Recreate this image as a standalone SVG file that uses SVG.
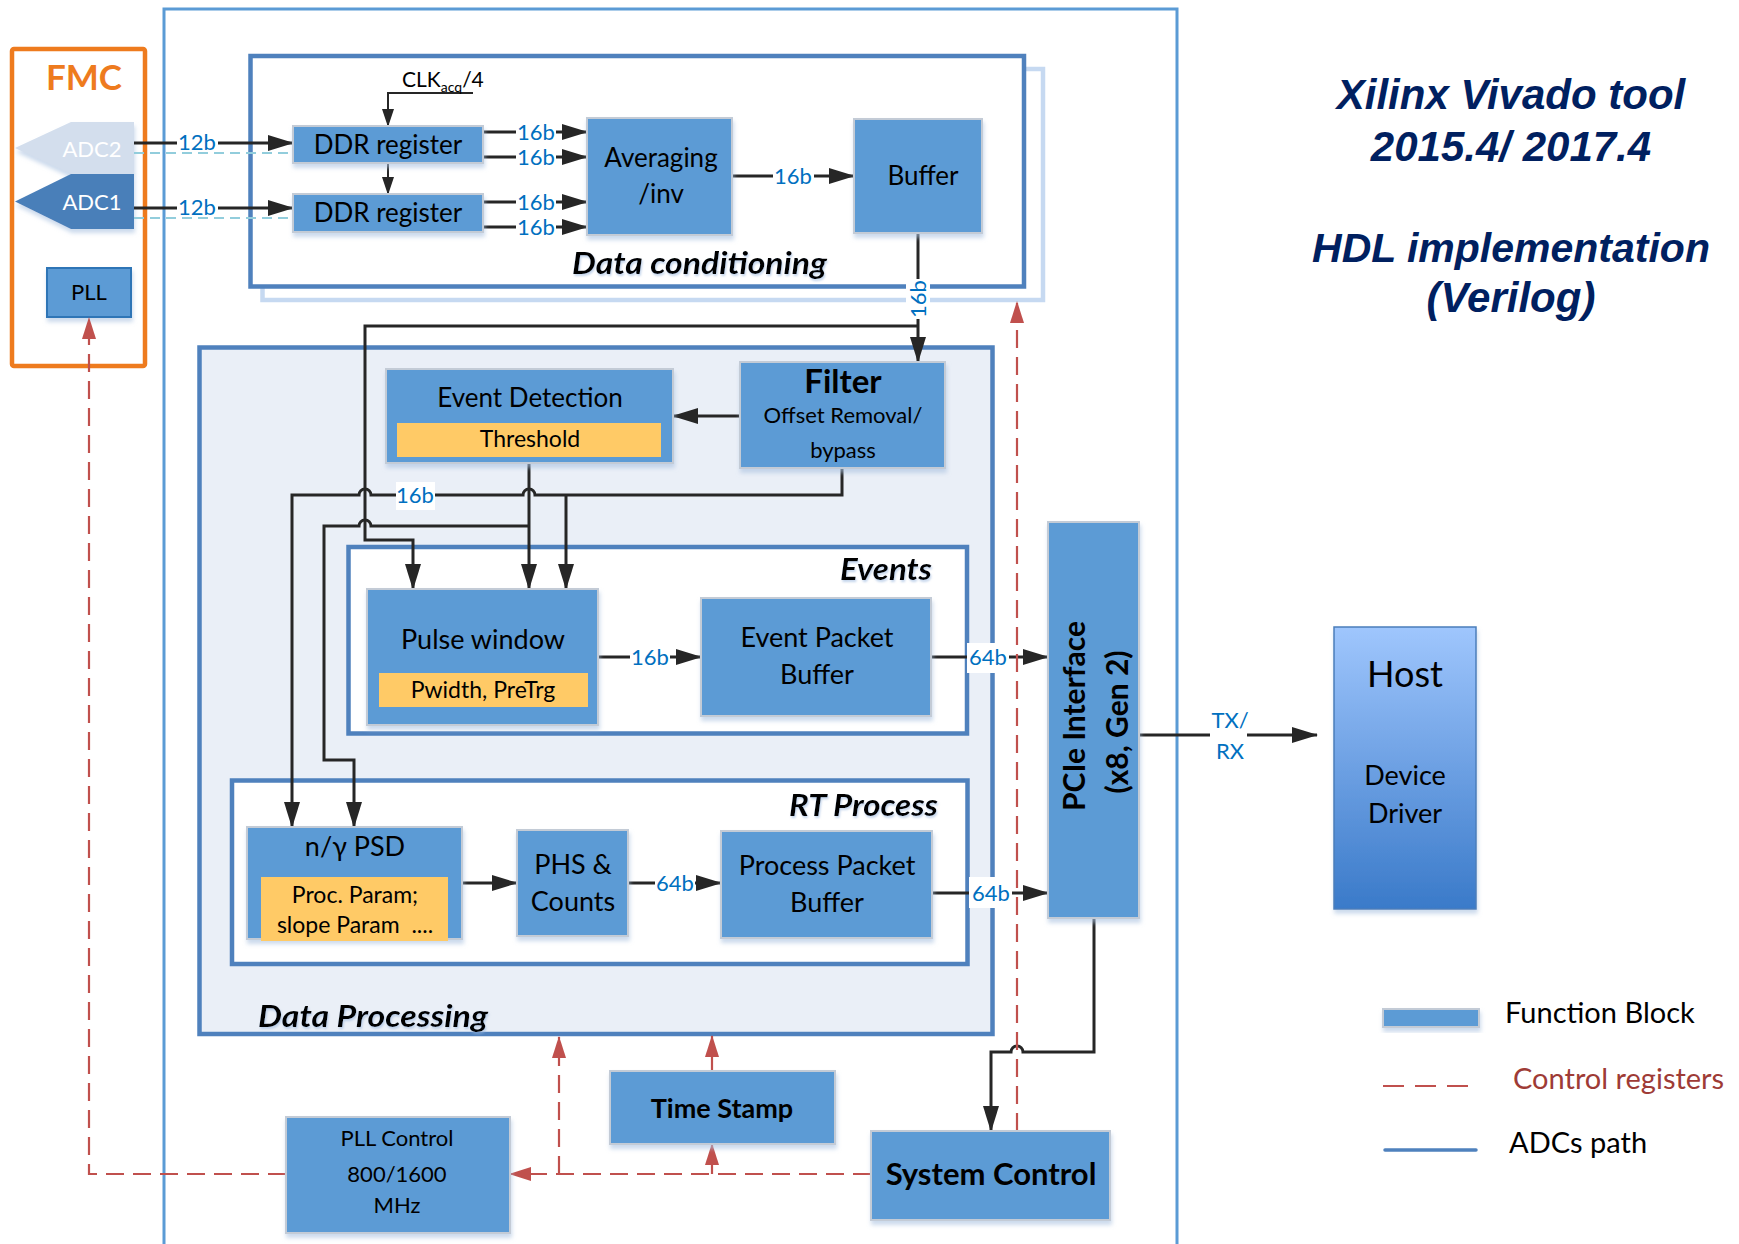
<svg xmlns="http://www.w3.org/2000/svg" width="1739" height="1244" viewBox="0 0 1739 1244">
<defs>
<style>
.blk{fill:#5b9bd5;stroke:#c3cbd6;stroke-width:2;filter:url(#sh)}
.par{fill:#ffca66}
.tx{font-family:Lato,"Open Sans","Liberation Sans",sans-serif;fill:#000;text-anchor:middle}
.grp{stroke:#4f81bd;stroke-width:4.5}
.hd{font-family:Lato,"Open Sans","Liberation Sans",sans-serif;font-weight:700;font-style:italic;font-size:30px;fill:#000;filter:url(#tsh)}
.bw{font-family:Lato,"Open Sans","Liberation Sans",sans-serif;font-size:22px;fill:#0070c0;text-anchor:middle}
.ln{fill:none;stroke:#262626;stroke-width:3}
.thin{fill:none;stroke:#262626;stroke-width:2}
.cr{fill:none;stroke:#c0504d;stroke-width:2.2;stroke-dasharray:18 9}
.bg{fill:#fff}
</style>
<filter id="sh" x="-10%" y="-10%" width="130%" height="140%">
<feDropShadow dx="1" dy="4" stdDeviation="2" flood-color="#a9c1e0" flood-opacity="0.6"/>
</filter>
<filter id="tsh" x="-5%" y="-20%" width="115%" height="150%">
<feDropShadow dx="1" dy="2" stdDeviation="1" flood-color="#9bb7de" flood-opacity="0.6"/>
</filter>
<linearGradient id="hostg" x1="0" y1="0" x2="0" y2="1">
<stop offset="0" stop-color="#9fc6fd"/>
<stop offset="1" stop-color="#3a7ac9"/>
</linearGradient>
<marker id="ah" markerUnits="userSpaceOnUse" markerWidth="26" markerHeight="16" refX="25" refY="8" orient="auto">
<path d="M0,0 L26,8 L0,16 z" fill="#262626"/>
</marker>
<marker id="as" markerUnits="userSpaceOnUse" markerWidth="18" markerHeight="12" refX="17" refY="6" orient="auto">
<path d="M0,0 L18,6 L0,12 z" fill="#262626"/>
</marker>
<marker id="ar" markerUnits="userSpaceOnUse" markerWidth="22" markerHeight="14" refX="21" refY="7" orient="auto">
<path d="M0,0 L22,7 L0,14 z" fill="#c0504d"/>
</marker>
</defs>

<rect width="1739" height="1244" fill="#fff"/>

<!-- FPGA outline -->
<path id="fpga" d="M164,1244 V9 H1177 V1244" fill="none" stroke="#5b9bd5" stroke-width="3"/>

<!-- FMC card -->
<g id="fmc">
<rect x="12" y="49" width="133" height="317" fill="none" stroke="#ee7b1e" stroke-width="4.5" rx="2"/>
<text x="84" y="90" class="tx" font-size="35" font-weight="700" style="fill:#ee7b1e">FMC</text>
</g>
<g id="adc2">
<polygon points="15,148 71,122 134,122 134,174 71,174" fill="#d3deed" filter="url(#sh)"/>
<text x="92" y="157" class="tx" font-size="22" style="fill:#fff">ADC2</text>
</g>
<g id="adc1">
<polygon points="15,201.5 71,174 134,174 134,229 71,229" fill="#4a7fb9" filter="url(#sh)"/>
<text x="92" y="210" class="tx" font-size="22" style="fill:#fff">ADC1</text>
</g>
<g id="pll">
<rect x="47" y="268" width="84" height="49" fill="#5b9bd5" stroke="#2e75b6" stroke-width="2" filter="url(#sh)"/>
<text x="89" y="300" class="tx" font-size="22">PLL</text>
</g>

<!-- group frames -->
<g id="data-conditioning">
<rect x="262.5" y="69" width="780.5" height="231" fill="#fff" stroke="#c6d9f1" stroke-width="4.5"/>
<rect x="250.5" y="56" width="773.5" height="230.5" fill="#fff" class="grp"/>
<text x="572" y="274" class="hd" textLength="255" lengthAdjust="spacingAndGlyphs">Data conditioning</text>
</g>
<g id="data-processing">
<rect x="199.5" y="347.5" width="793" height="686.5" fill="#eaeff7" class="grp"/>
<text x="258" y="1027" class="hd" textLength="230" lengthAdjust="spacingAndGlyphs">Data Processing</text>
</g>
<g id="events">
<rect x="348.5" y="547" width="618.5" height="186.5" fill="#fff" class="grp"/>
<text x="840" y="580" class="hd" textLength="92" lengthAdjust="spacingAndGlyphs">Events</text>
</g>
<g id="rt-process">
<rect x="232" y="780.5" width="735.5" height="183.5" fill="#fff" class="grp"/>
<text x="789" y="816" class="hd" textLength="149" lengthAdjust="spacingAndGlyphs">RT Process</text>
</g>

<!-- connectors -->
<g id="connectors">
<!-- ADC inputs -->
<line x1="134" y1="153" x2="293" y2="153" stroke="#92cddc" stroke-width="2" stroke-dasharray="10 6"/>
<line x1="134" y1="218" x2="293" y2="218" stroke="#92cddc" stroke-width="2" stroke-dasharray="10 6"/>
<line x1="134" y1="143" x2="293" y2="143" class="ln" marker-end="url(#ah)"/>
<line x1="134" y1="208" x2="293" y2="208" class="ln" marker-end="url(#ah)"/>
<rect x="177" y="132" width="41" height="19" class="bg"/>
<text x="197" y="150" class="bw">12b</text>
<rect x="177" y="197" width="41" height="19" class="bg"/>
<text x="197" y="215" class="bw">12b</text>

<!-- clock -->
<polyline points="473,93 388,93 388,126" class="thin" marker-end="url(#as)"/>
<text x="402" y="87" font-family="Lato,'Open Sans','Liberation Sans',sans-serif" font-size="21">CLK<tspan font-size="14" dy="5">acq</tspan><tspan dy="-5">/4</tspan></text>
<line x1="388" y1="163" x2="388" y2="194" class="thin" marker-end="url(#as)"/>

<!-- DDR outputs -->
<line x1="483" y1="132" x2="587" y2="132" class="ln" marker-end="url(#ah)"/>
<line x1="483" y1="157" x2="587" y2="157" class="ln" marker-end="url(#ah)"/>
<line x1="483" y1="202" x2="587" y2="202" class="ln" marker-end="url(#ah)"/>
<line x1="483" y1="227" x2="587" y2="227" class="ln" marker-end="url(#ah)"/>
<rect x="516" y="122" width="40" height="19" class="bg"/>
<rect x="516" y="147" width="40" height="19" class="bg"/>
<rect x="516" y="192" width="40" height="19" class="bg"/>
<rect x="516" y="217" width="40" height="19" class="bg"/>
<text x="536" y="140" class="bw">16b</text>
<text x="536" y="165" class="bw">16b</text>
<text x="536" y="210" class="bw">16b</text>
<text x="536" y="235" class="bw">16b</text>

<!-- averaging to buffer -->
<line x1="732" y1="176" x2="854" y2="176" class="ln" marker-end="url(#ah)"/>
<rect x="773" y="166" width="41" height="19" class="bg"/>
<text x="793" y="184" class="bw">16b</text>

<!-- buffer to filter, and branch to pulse window -->
<line x1="918" y1="233" x2="918" y2="362" class="ln" marker-end="url(#ah)"/>
<rect x="906" y="279" width="24" height="40" class="bg"/>
<text transform="translate(926,299) rotate(-90)" class="bw">16b</text>
<polyline points="918,326 365,326 365,540 413,540 413,589" class="ln" marker-end="url(#ah)"/>

<!-- filter to event detection -->
<line x1="740" y1="416" x2="673" y2="416" class="ln" marker-end="url(#ah)"/>

<!-- filter output bus -->
<path d="M842,468 V495 H535 a6,6 0 0 0 -12,0 H371 a6,6 0 0 0 -12,0 H292 V827" class="ln" marker-end="url(#ah)"/>
<line x1="566" y1="495" x2="566" y2="589" class="ln" marker-end="url(#ah)"/>
<rect x="396" y="482" width="39" height="28" class="bg"/>
<text x="415" y="503" class="bw">16b</text>

<!-- event detection output -->
<line x1="529" y1="463" x2="529" y2="589" class="ln" marker-end="url(#ah)"/>
<path d="M529,526 H371 a6,6 0 0 0 -12,0 H324 V760 H354 V827" class="ln" marker-end="url(#ah)"/>

<!-- events path -->
<line x1="598" y1="657" x2="701" y2="657" class="ln" marker-end="url(#ah)"/>
<rect x="630" y="647" width="40" height="19" class="bg"/>
<text x="650" y="665" class="bw">16b</text>
<line x1="931" y1="657" x2="1048" y2="657" class="ln" marker-end="url(#ah)"/>
<rect x="967" y="643" width="42" height="30" class="bg"/>
<text x="988" y="665" class="bw">64b</text>

<!-- RT path -->
<line x1="462" y1="883" x2="517" y2="883" class="ln" marker-end="url(#ah)"/>
<line x1="628" y1="883" x2="721" y2="883" class="ln" marker-end="url(#ah)"/>
<rect x="655" y="873" width="40" height="19" class="bg"/>
<text x="675" y="891" class="bw">64b</text>
<line x1="932" y1="893" x2="1048" y2="893" class="ln" marker-end="url(#ah)"/>
<rect x="969" y="877" width="43" height="31" class="bg"/>
<text x="991" y="901" class="bw">64b</text>

<!-- PCIe to host -->
<line x1="1139" y1="735" x2="1210" y2="735" class="ln"/>
<line x1="1247" y1="735" x2="1317" y2="735" class="ln" marker-end="url(#ah)"/>
<text x="1230" y="728" class="bw" font-size="21">TX/</text>
<text x="1230" y="759" class="bw" font-size="21">RX</text>

<!-- PCIe to system control -->
<path d="M1094,918 V1052 H1023 a6,6 0 0 0 -12,0 H991 V1131" class="ln" marker-end="url(#ah)"/>

<!-- control registers -->
<line x1="1017" y1="1131" x2="1017" y2="302" class="cr" marker-end="url(#ar)"/>
<line x1="871" y1="1174" x2="510" y2="1174" class="cr" marker-end="url(#ar)"/>
<line x1="712" y1="1174" x2="712" y2="1144" class="cr" marker-end="url(#ar)"/>
<line x1="712" y1="1071" x2="712" y2="1036" class="cr" marker-end="url(#ar)"/>
<line x1="559" y1="1174" x2="559" y2="1037" class="cr" marker-end="url(#ar)"/>
<polyline points="286,1174 89,1174 89,318" class="cr" marker-end="url(#ar)"/>
</g>

<!-- function blocks -->
<g id="ddr1">
<rect x="293" y="126" width="190" height="37" class="blk"/>
<text x="388" y="154" class="tx" font-size="26">DDR register</text>
</g>
<g id="ddr2">
<rect x="293" y="194" width="190" height="38" class="blk"/>
<text x="388" y="222" class="tx" font-size="26">DDR register</text>
</g>
<g id="averaging">
<rect x="587" y="118" width="145" height="117" class="blk"/>
<text x="661" y="167" class="tx" font-size="26">Averaging</text>
<text x="661" y="203" class="tx" font-size="26">/inv</text>
</g>
<g id="buffer">
<rect x="854" y="119" width="128" height="114" class="blk"/>
<text x="923" y="185" class="tx" font-size="26">Buffer</text>
</g>
<g id="event-detection">
<rect x="386" y="369" width="287" height="94" class="blk"/>
<rect x="397" y="423" width="264" height="34" class="par"/>
<text x="530" y="407" class="tx" font-size="26">Event Detection</text>
<text x="530" y="447" class="tx" font-size="23">Threshold</text>
</g>
<g id="filter">
<rect x="740" y="362" width="205" height="106" class="blk"/>
<text x="843" y="393" class="tx" font-size="33" font-weight="700">Filter</text>
<text x="843" y="423" class="tx" font-size="22">Offset Removal/</text>
<text x="843" y="458" class="tx" font-size="22">bypass</text>
</g>
<g id="pulse-window">
<rect x="367" y="589" width="231" height="136" class="blk"/>
<rect x="379" y="673" width="209" height="34" class="par"/>
<text x="483" y="649" class="tx" font-size="27">Pulse window</text>
<text x="483" y="698" class="tx" font-size="23">Pwidth, PreTrg</text>
</g>
<g id="event-packet-buffer">
<rect x="701" y="598" width="230" height="118" class="blk"/>
<text x="817" y="647" class="tx" font-size="27">Event Packet</text>
<text x="817" y="684" class="tx" font-size="27">Buffer</text>
</g>
<g id="psd">
<rect x="247" y="827" width="215" height="112" class="blk"/>
<rect x="261" y="877" width="187" height="64" class="par"/>
<text x="355" y="856" class="tx" font-size="27">n/γ PSD</text>
<text x="355" y="903" class="tx" font-size="23">Proc. Param;</text>
<text x="355" y="933" class="tx" font-size="23" xml:space="preserve">slope Param  ....</text>
</g>
<g id="phs-counts">
<rect x="517" y="830" width="111" height="106" class="blk"/>
<text x="573" y="874" class="tx" font-size="27">PHS &amp;</text>
<text x="573" y="911" class="tx" font-size="27">Counts</text>
</g>
<g id="process-packet-buffer">
<rect x="721" y="831" width="211" height="107" class="blk"/>
<text x="827" y="875" class="tx" font-size="27">Process Packet</text>
<text x="827" y="912" class="tx" font-size="27">Buffer</text>
</g>
<g id="pcie">
<rect x="1048" y="522" width="91" height="396" class="blk"/>
<text transform="translate(1085,716) rotate(-90)" class="tx" font-size="30" font-weight="700">PCIe Interface</text>
<text transform="translate(1128,722) rotate(-90)" class="tx" font-size="30" font-weight="700">(x8, Gen 2)</text>
</g>
<g id="host">
<rect x="1334" y="627" width="142" height="282" fill="url(#hostg)" stroke="#4a7ebb" stroke-width="1.5" filter="url(#sh)"/>
<text x="1405" y="687" class="tx" font-size="36">Host</text>
<text x="1405" y="785" class="tx" font-size="27">Device</text>
<text x="1405" y="823" class="tx" font-size="27">Driver</text>
</g>
<g id="time-stamp">
<rect x="610" y="1071" width="225" height="73" class="blk"/>
<text x="722" y="1118" class="tx" font-size="27" font-weight="700">Time Stamp</text>
</g>
<g id="system-control">
<rect x="871" y="1131" width="239" height="89" class="blk"/>
<text x="991" y="1185" class="tx" font-size="31" font-weight="700">System Control</text>
</g>
<g id="pll-control">
<rect x="286" y="1117" width="224" height="116" class="blk"/>
<text x="397" y="1146" class="tx" font-size="22">PLL Control</text>
<text x="397" y="1182" class="tx" font-size="22">800/1600</text>
<text x="397" y="1213" class="tx" font-size="22">MHz</text>
</g>

<!-- tool notes -->
<g id="title" font-family="'Liberation Sans',Arial,sans-serif" font-weight="700" font-style="italic" fill="#002060" text-anchor="middle">
<text x="1511" y="109" font-size="42">Xilinx Vivado tool</text>
<text x="1511" y="161" font-size="42">2015.4/ 2017.4</text>
<text x="1511" y="262" font-size="41">HDL implementation</text>
<text x="1511" y="312" font-size="42">(Verilog)</text>
</g>

<!-- legend -->
<g id="legend" font-family="Lato,'Open Sans','Liberation Sans',sans-serif" font-size="29">
<rect x="1383" y="1009" width="96" height="18" class="blk"/>
<text x="1505" y="1023">Function Block</text>
<line x1="1383" y1="1086" x2="1468" y2="1086" stroke="#c0504d" stroke-width="2.2" stroke-dasharray="21 11"/>
<text x="1513" y="1089" fill="#9e3b36">Control registers</text>
<line x1="1385" y1="1150" x2="1476" y2="1150" stroke="#4f81bd" stroke-width="3.5" stroke-linecap="round"/>
<text x="1509" y="1153">ADCs path</text>
</g>
</svg>
